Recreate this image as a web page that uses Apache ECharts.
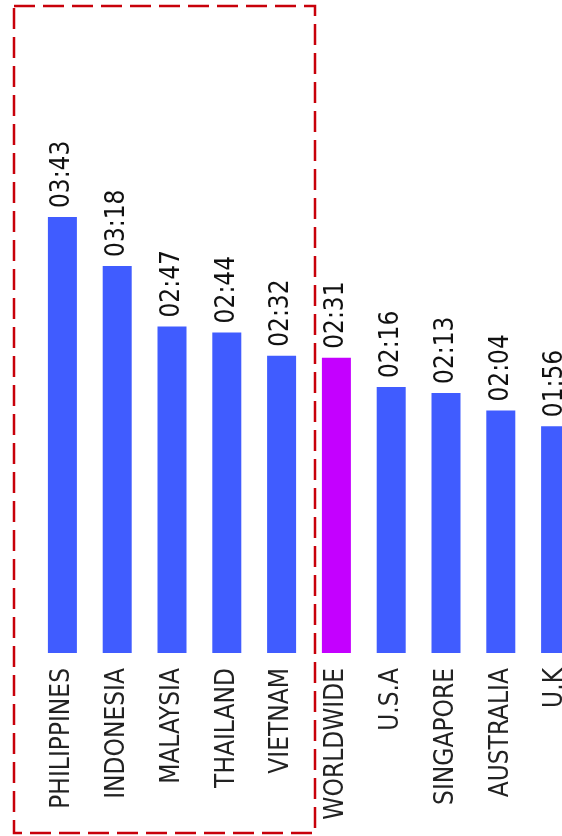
<!DOCTYPE html>
<html>
<head>
<meta charset="utf-8">
<script src="https://cdn.jsdelivr.net/npm/echarts@6/dist/echarts.min.js"></script>
<style>
  html, body { margin: 0; padding: 0; background: #ffffff; }
  #chart { width: 562px; height: 836px; }
</style>
</head>
<body>
<div id="chart"></div>
<script>
// Daily time per country, in minutes:seconds
const countries = ['PHILIPPINES', 'INDONESIA', 'MALAYSIA', 'THAILAND', 'VIETNAM',
  'WORLDWIDE', 'U.S.A', 'SINGAPORE', 'AUSTRALIA', 'U.K'];
const durations = ['03:43', '03:18', '02:47', '02:44', '02:32',
  '02:31', '02:16', '02:13', '02:04', '01:56'];
const highlighted = ['WORLDWIDE'];

const BLUE = '#405CFF';
const PURPLE = '#C400FF';
const FONT = '"Liberation Sans Narrow", "DejaVu Sans Condensed", sans-serif';

function toSeconds(t) {
  const [m, s] = t.split(':').map(Number);
  return m * 60 + s;
}

const seriesData = countries.map((c, i) => ({
  value: toSeconds(durations[i]),
  label: durations[i],
  itemStyle: { color: highlighted.includes(c) ? PURPLE : BLUE }
}));

const chart = echarts.init(document.getElementById('chart'));
chart.setOption({
  animation: false,
  grid: {
    left: 35, width: 548, top: 66.5, bottom: 183,
    containLabel: false,
    outerBoundsMode: 'none'
  },
  xAxis: {
    type: 'category',
    data: countries,
    axisLine: { show: false },
    axisTick: { show: false },
    axisLabel: {
      rotate: 90,
      margin: 15,
      interval: 0,
      color: '#222222',
      fontFamily: FONT,
      fontSize: 26
    }
  },
  yAxis: {
    type: 'value',
    min: 0,
    max: 300,
    show: false,
    splitLine: { show: false }
  },
  series: [{
    type: 'bar',
    data: seriesData,
    barWidth: 29,
    label: {
      show: true,
      position: 'top',
      rotate: 90,
      align: 'left',
      verticalAlign: 'middle',
      distance: 9,
      color: '#111111',
      fontFamily: FONT,
      fontSize: 26,
      formatter: p => p.data.label
    }
  }],
  graphic: [{
    type: 'rect',
    shape: { x: 14, y: 6, width: 301, height: 827 },
    style: {
      fill: 'none',
      stroke: '#C8000A',
      lineWidth: 2.5,
      lineDash: [21, 8]
    },
    silent: true
  }]
});
</script>
</body>
</html>
